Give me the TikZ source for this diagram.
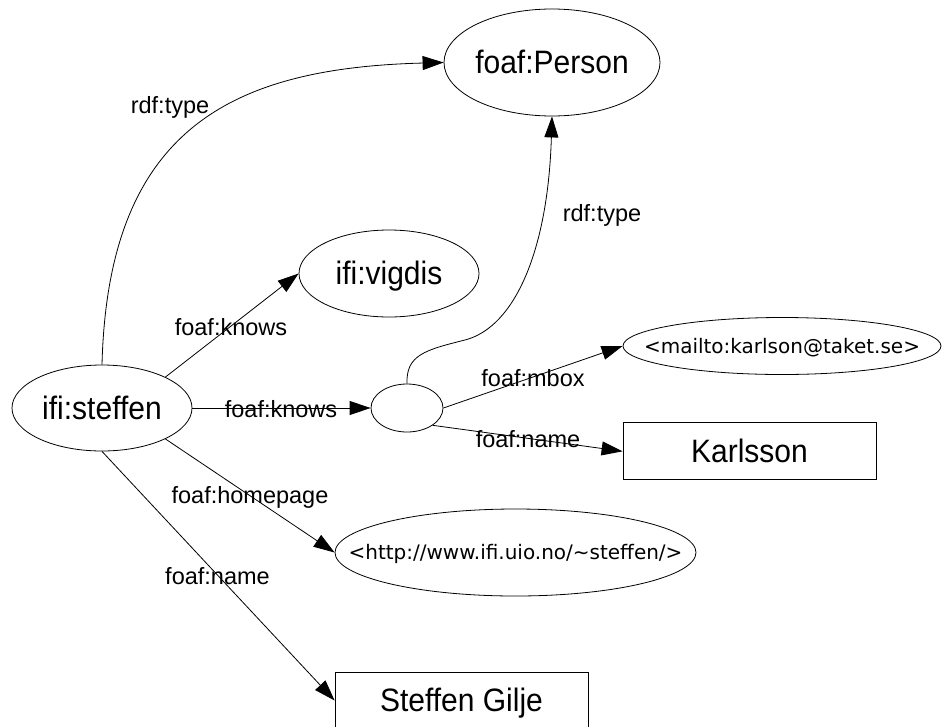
\documentclass[tikz,border=0pt]{standalone}
\usepackage{fontspec}
\setmainfont{Liberation Sans}
\newfontfamily\dejavu{DejaVu Sans}
\usetikzlibrary{arrows.meta,shapes.geometric}
\newcommand{\tallt}[1]{\scalebox{1}[1.08]{#1}}
\begin{document}
\begin{tikzpicture}[x=1pt,y=-1pt,
  every node/.style={inner sep=0pt},
  big/.style={font=\fontsize{30}{36}\selectfont, text height=22.5pt, text depth=0pt},
  small/.style={font=\dejavu\fontsize{20}{24}\selectfont, text height=14.6pt, text depth=0pt},
  oval/.style={draw, ellipse, line width=0.8pt},
  boxnode/.style={draw, rectangle, line width=0.8pt, minimum width=253pt, minimum height=57pt},
  lbl/.style={font=\fontsize{23.5}{28}\selectfont, anchor=base},
  edge/.style={line width=0.8pt, -{Triangle[length=21pt,width=14pt]}}
]
\useasboundingbox (0,0) rectangle (944,726);
\clip (0,0) rectangle (944,726);

% nodes
\node[oval,big,minimum width=180pt,minimum height=86pt] (steffen) at (102,408) {\makebox[0pt]{\tallt{ifi:steffen}}};
\node[oval,big,minimum width=216pt,minimum height=107pt] (person) at (552,62.5) {\makebox[0pt]{\tallt{foaf:Person}}};
\node[oval,big,minimum width=180pt,minimum height=87pt] (vigdis) at (389,273.5) {\makebox[0pt]{\tallt{ifi:vigdis}}};
\node[oval,minimum width=72pt,minimum height=48pt] (blank) at (407,408) {};
\node[oval,small,minimum width=318pt,minimum height=57pt] (mailto) at (782,346) {\makebox[0pt]{<mailto:karlson@taket.se>}};
\node[oval,small,minimum width=361pt,minimum height=87pt] (homepage) at (515.5,552.5) {\makebox[0pt]{<http://www.ifi.uio.no/\textasciitilde steffen/>}};
\node[boxnode,big] (karlsson) at (749.5,451.3) {\tallt{Karlsson}};
\node[boxnode,big] (gilje) at (461.5,700.5) {\tallt{Steffen Gilje}};

% connectors
\coordinate (bendpt) at (465,340);
\draw[edge] (steffen.north) .. controls (108,130) and (230,68) .. (person.west);
\draw[edge] (blank.north) .. controls (406,355) and (425,350) .. (bendpt) .. controls (515,327) and (548,250) .. (person.south);
\draw[edge] (steffen.26) -- (vigdis.west);
\draw[edge] (steffen.east) -- (blank.west);
\draw[edge] (steffen.-26) -- (homepage.west);
\draw[edge] (steffen.south) -- (gilje.west);
\draw[edge] (blank.east) -- (mailto.west);
\draw[edge] (blank.-34) -- (karlsson.west);

% labels
\node[lbl] (l1) at (170,113.5) {rdf:type};
\node[lbl] (l2) at (602,221) {rdf:type};
\node[lbl] (l3) at (231,335) {foaf:knows};
\node[lbl] (l4) at (281,417) {foaf:knows};
\node[lbl] (l5) at (250,503) {foaf:homepage};
\node[lbl] (l6) at (217.5,584) {foaf:name};
\node[lbl] (l7) at (533,386) {foaf:mbox};
\node[lbl] (l8) at (528,447) {foaf:name};
\end{tikzpicture}
\end{document}
